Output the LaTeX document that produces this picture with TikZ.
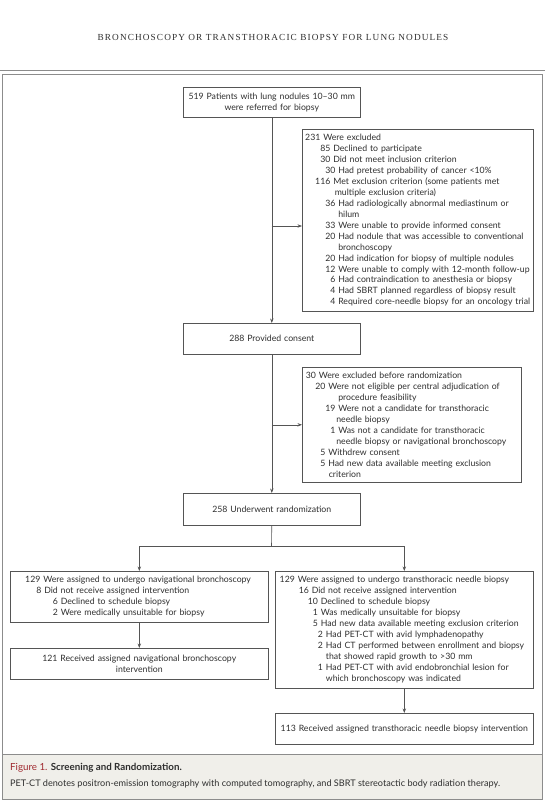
\documentclass[tikz,border=0pt]{standalone}
\usepackage{fontspec}
\setmainfont{Lato}
\newfontfamily\headfont[LetterSpace=12]{Liberation Serif}
\usetikzlibrary{arrows.meta}
\definecolor{boxline}{HTML}{555555}
\definecolor{txt}{HTML}{2E2E2E}
\definecolor{frameline}{HTML}{8C8C8C}
\definecolor{band}{HTML}{F0EFEA}
\definecolor{figred}{HTML}{A02A30}
% one line of a list box: #1 = start of the text, #2 = number set right before it
\newcommand\Ln[3]{\mbox{\hspace*{#1}\llap{#2\ }#3}}
\tikzset{
  box/.style={draw=boxline, line width=0.6bp, inner sep=0pt, text=txt,
    font=\fontsize{8.75}{11}\selectfont},
  lbox/.style={box, align=left, anchor=north west},
  cbox/.style={box, align=center, anchor=north west},
  conn/.style={draw=boxline, line width=0.6bp},
  arr/.style={conn, -{Stealth[length=4.5bp,width=3.4bp]}},
}
\begin{document}
\begin{tikzpicture}[x=1bp,y=-1bp]
\useasboundingbox (0,0) rectangle (545,800);
% page header and frame
\node[text=txt, font=\headfont\fontsize{9.3}{10}\selectfont] (head) at (273,37)
  {BRONCHOSCOPY OR TRANSTHORACIC BIOPSY FOR LUNG NODULES};
\draw[frameline, line width=0.8bp] (0,70.5) -- (545,70.5);
\fill[band] (2,754) rectangle (542,799);
\draw[frameline, line width=0.8bp] (2,74) rectangle (542,799);
\draw[frameline, line width=0.8bp] (2,754) -- (542,754);
% caption
\node[anchor=west, text=txt, font=\fontsize{9.8}{11}\selectfont, inner sep=0pt] (cap1) at (10,767.5)
  {\textcolor{figred}{Figure 1.} \textbf{Screening and Randomization.}};
\node[anchor=west, text=txt, font=\fontsize{9.15}{11}\selectfont, inner sep=0pt] (cap2) at (10,784)
  {PET-CT denotes positron-emission tomography with computed tomography, and SBRT stereotactic body radiation therapy.};
% boxes
\node[cbox, minimum width=177bp, minimum height=30bp, text width=177bp] (top) at (183,87)
  {519 Patients with lung nodules 10--30 mm\\were referred for biopsy};
\node[lbox, minimum width=231bp, minimum height=182bp, text width=231bp] (excl) at (302,129)
  {\Ln{21bp}{231}{Were excluded}\\
   \Ln{31bp}{85}{Declined to participate}\\
   \Ln{31bp}{30}{Did not meet inclusion criterion}\\
   \Ln{36bp}{30}{Had pretest probability of cancer <10\%}\\
   \Ln{31bp}{116}{Met exclusion criterion (some patients met}\\
   \Ln{32.5bp}{}{multiple exclusion criteria)}\\
   \Ln{36bp}{36}{Had radiologically abnormal mediastinum or}\\
   \Ln{36bp}{}{hilum}\\
   \Ln{36bp}{33}{Were unable to provide informed consent}\\
   \Ln{36bp}{20}{Had nodule that was accessible to conventional}\\
   \Ln{36bp}{}{bronchoscopy}\\
   \Ln{36bp}{20}{Had indication for biopsy of multiple nodules}\\
   \Ln{36bp}{12}{Were unable to comply with 12-month follow-up}\\
   \Ln{36bp}{6}{Had contraindication to anesthesia or biopsy}\\
   \Ln{36bp}{4}{Had SBRT planned regardless of biopsy result}\\
   \Ln{36bp}{4}{Required core-needle biopsy for an oncology trial}};
\node[cbox, minimum width=177bp, minimum height=31bp, text width=177bp] (consent) at (183,323)
  {288 Provided consent};
\node[lbox, minimum width=219bp, minimum height=115bp, text width=219bp] (excl2) at (302,367)
  {\Ln{16.5bp}{30}{Were excluded before randomization}\\
   \Ln{26bp}{20}{Were not eligible per central adjudication of}\\
   \Ln{36bp}{}{procedure feasibility}\\
   \Ln{36bp}{19}{Were not a candidate for transthoracic}\\
   \Ln{34bp}{}{needle biopsy}\\
   \Ln{36bp}{1}{Was not a candidate for transthoracic}\\
   \Ln{34bp}{}{needle biopsy or navigational bronchoscopy}\\
   \Ln{26bp}{5}{Withdrew consent}\\
   \Ln{26bp}{5}{Had new data available meeting exclusion}\\
   \Ln{26.5bp}{}{criterion}};
\node[cbox, minimum width=177bp, minimum height=32bp, text width=177bp] (rand) at (183,493)
  {258 Underwent randomization};
\node[lbox, minimum width=258bp, minimum height=51bp, text width=258bp] (larm) at (10,571)
  {\Ln{33bp}{129}{Were assigned to undergo navigational bronchoscopy}\\
   \Ln{34bp}{8}{Did not receive assigned intervention}\\
   \Ln{50.5bp}{6}{Declined to schedule biopsy}\\
   \Ln{50.5bp}{2}{Were medically unsuitable for biopsy}};
\node[lbox, minimum width=258bp, minimum height=117bp, text width=258bp] (rarm) at (275,571)
  {\Ln{22.5bp}{129}{Were assigned to undergo transthoracic needle biopsy}\\
   \Ln{36.5bp}{16}{Did not receive assigned intervention}\\
   \Ln{45.5bp}{10}{Declined to schedule biopsy}\\
   \Ln{45.5bp}{1}{Was medically unsuitable for biopsy}\\
   \Ln{45.5bp}{5}{Had new data available meeting exclusion criterion}\\
   \Ln{50.6bp}{2}{Had PET-CT with avid lymphadenopathy}\\
   \Ln{50.6bp}{2}{Had CT performed between enrollment and biopsy}\\
   \Ln{50.6bp}{}{that showed rapid growth to >30 mm}\\
   \Ln{50.6bp}{1}{Had PET-CT with avid endobronchial lesion for}\\
   \Ln{50.6bp}{}{which bronchoscopy was indicated}};
\node[cbox, minimum width=258bp, minimum height=31bp, text width=258bp] (lres) at (10,648)
  {121 Received assigned navigational bronchoscopy\\intervention};
\node[cbox, minimum width=258bp, minimum height=31bp, text width=258bp] (rres) at (275,713)
  {113 Received assigned transthoracic needle biopsy intervention};
% connectors
\coordinate (j1) at (271.5,226);
\draw[arr] (top.south) -- (consent.north);
\draw[arr] (j1) -- (j1 -| excl.west);
\draw[arr] (consent.south) -- (rand.north);
\draw[arr] (consent.south |- excl2.west) -- (excl2.west);
\coordinate (s) at (271.5,546);
\draw[conn] (rand.south) -- (s);
\draw[conn] (larm.north |- s) -- (rarm.north |- s);
\draw[arr] (larm.north |- s) -- (larm.north);
\draw[arr] (rarm.north |- s) -- (rarm.north);
\draw[arr] (larm.south) -- (lres.north);
\draw[arr] (rarm.south) -- (rres.north);
\end{tikzpicture}
\end{document}
